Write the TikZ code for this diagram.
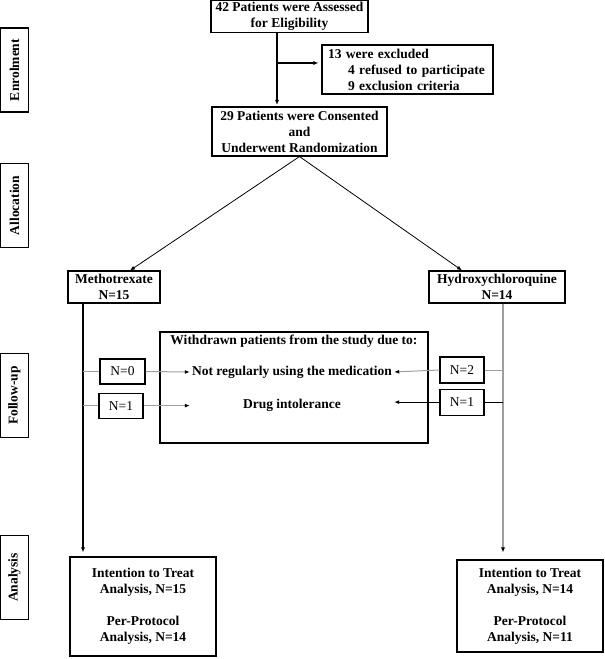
\documentclass[tikz,border=0pt]{standalone}
\usepackage{fontspec}
\setmainfont{Liberation Serif}
\usepackage{tikz}
\usetikzlibrary{arrows.meta, positioning}

\definecolor{paleline}{gray}{0.62}

\tikzset{
  box/.style={draw, line width=1.1pt, align=center, inner sep=2pt,
    font=\fontsize{13.5}{16}\selectfont\bfseries},
  plain/.style={inner sep=2pt, font=\fontsize{13.5}{16}\selectfont\bfseries},
  stage/.style={draw, line width=1.1pt, rotate=90, minimum width=84pt,
    minimum height=28pt, inner sep=0pt, font=\fontsize{13.5}{16}\selectfont\bfseries},
  nbox/.style={draw, line width=1.1pt, minimum width=44pt, minimum height=25pt,
    inner sep=0pt, font=\fontsize{13.5}{16}\selectfont},
  flow/.style={line width=1.1pt, -{Latex[length=5pt,width=4pt]}},
  thinline/.style={line width=1pt, paleline},
  thinarrow/.style={line width=1pt, paleline, -{Latex[length=5pt,width=4pt,color=black]}}
}

\begin{document}
\begin{tikzpicture}[x=1pt, y=-1pt]
  \useasboundingbox (0,0) rectangle (605,659);

  % stages on the left
  \node[stage] (enrol) at (14.5,70) {Enrolment};
  \node[stage] (alloc) at (14.5,205.5) {Allocation};
  \node[stage] (follow) at (14.5,395.5) {Follow-up};
  \node[stage] (analys) at (14.5,577.5) {Analysis};

  % enrolment
  \node[box, minimum width=157pt, minimum height=32pt] (elig) at (289.5,16.5)
    {42 Patients were Assessed\\for Eligibility};
  \node[box, align=left, text width=159pt, inner xsep=6pt, minimum height=49pt] (excl) at (407.5,69.5)
    {13 were excluded\\\hspace*{20pt}4 refused to participate\\\hspace*{20pt}9 exclusion criteria};
  \node[box, minimum width=175pt, minimum height=49pt] (cons) at (299.5,131.5)
    {29 Patients were Consented\\and\\Underwent Randomization};

  % allocation
  \node[box, minimum width=92pt, minimum height=32pt] (mtx) at (114,287) {Methotrexate\\N=15};
  \node[box, minimum width=136pt, minimum height=32pt] (hcq) at (497,287) {Hydroxychloroquine\\N=14};

  % follow-up
  \node[box, minimum width=268pt, minimum height=111pt] (wd) at (294,387.5) {};
  \node[plain, below=1pt of wd.north] (wdtitle) {Withdrawn patients from the study due to:};
  \node[plain] (nrum) at (292,372) {Not regularly using the medication};
  \node[plain] (drug) at (292,405) {Drug intolerance};

  \node[nbox, minimum width=45pt] (n0) at (122.5,371.5) {N=0};
  \node[nbox, below=8pt of n0, xshift=-1.5pt] (n1l) {N=1};
  \node[nbox, minimum height=26pt] (n2) at (462,370) {N=2};
  \node[nbox, minimum height=26pt, below=5pt of n2] (n1r) {N=1};

  % analysis
  \node[box, minimum width=146pt, minimum height=99pt] (itt1) at (143,606.5)
    {Intention to Treat\\Analysis, N=15\\[16pt]Per-Protocol\\Analysis, N=14};
  \node[box, minimum width=146pt, minimum height=92pt] (itt2) at (530,606)
    {Intention to Treat\\Analysis, N=14\\[16pt]Per-Protocol\\Analysis, N=11};

  % connectors
  \coordinate (split) at (277,63);
  \draw[flow, shorten >=1.5pt] (elig.south -| split) -- (cons.north -| split);
  \draw[flow, shorten >=3pt] (split) -- (split -| excl.west);
  \draw[flow, line width=0.8pt] (cons.south) -- ([xshift=16pt]mtx.north);
  \draw[flow, line width=0.8pt] (cons.south) -- ([xshift=-35pt]hcq.north);

  \coordinate (lspine) at ([xshift=-31pt]mtx.south);
  \coordinate (rspine) at ([xshift=6pt]hcq.south);
  \draw[flow, shorten >=4pt] (lspine) -- (lspine |- itt1.north);
  \draw[thinarrow, line width=1.4pt, shorten >=7pt] (rspine) -- (rspine |- itt2.north);

  \draw[thinline] (lspine |- n0) -- (n0.west);
  \draw[thinarrow] (n0.east) -- (nrum.west);
  \draw[thinline] (lspine |- n1l) -- (n1l.west);
  \draw[thinarrow] (n1l.east) -- (n1l.east -| nrum.west);
  \draw[thinline] (rspine |- n2) -- (n2.east);
  \draw[thinarrow] (n2.west) -- (nrum.east);
  \draw[line width=1.1pt] (rspine |- n1r) -- (n1r.east);
  \draw[flow] (n1r.west) -- (n1r.west -| nrum.east);
\end{tikzpicture}
\end{document}
